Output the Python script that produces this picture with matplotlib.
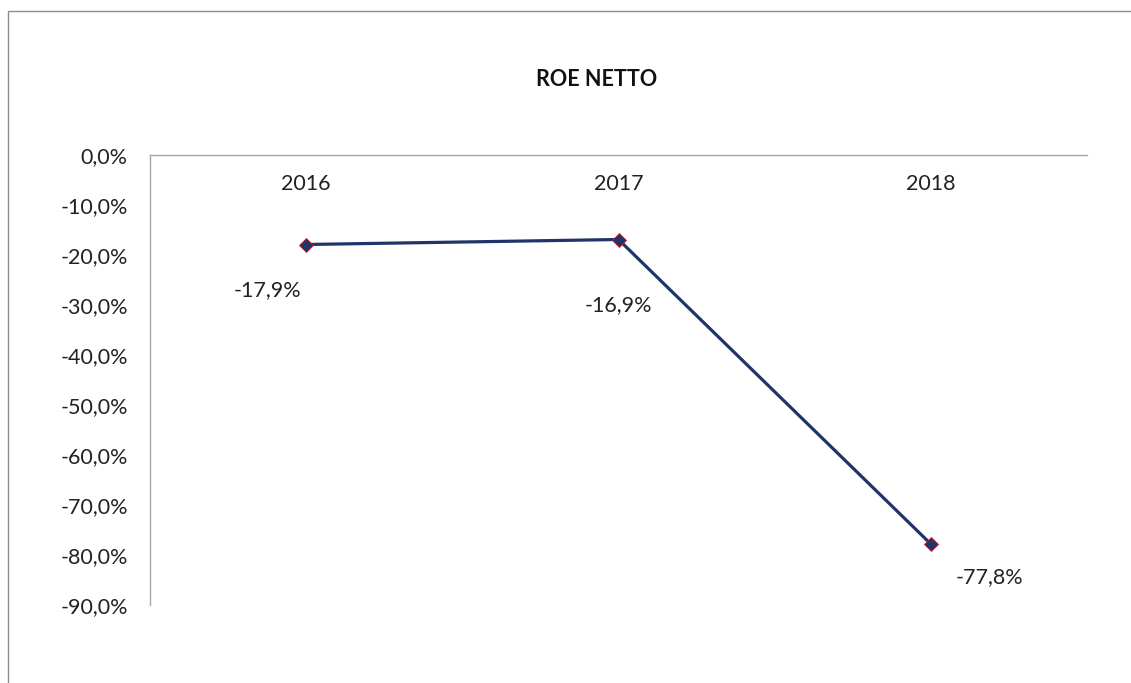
import matplotlib.pyplot as plt
from matplotlib.patches import Rectangle
from matplotlib.ticker import FuncFormatter

# _____DATA____

years = ['2016', '2017', '2018']
roe_netto = [-17.9, -16.9, -77.8]
y_ticks = [0, -10, -20, -30, -40, -50, -60, -70, -80, -90]

# label offsets in points (dx, dy), moved by hand in the original
label_offsets = [(-28, -33), (0, -47), (42, -24)]


def _pct(value, pos=None):
    # italian style percentage with comma
    return '{:.1f}%'.format(value).replace('.', ',')


plt.rcParams['font.family'] = ['Lato', 'DejaVu Sans']
FONT_SIZE = 15.5

# create figure
fig = plt.figure(figsize=(11.31, 6.83), dpi=100)
W, H = 1131, 683

# chart border
fig.patches.append(Rectangle((8 / W, -0.1), 1.2, 1 - 11 / H + 0.1, transform=fig.transFigure,
                             fill=False, edgecolor='#8c8c8c', linewidth=1.0))

# plot area
left, right, top, bottom = 150, 1087, 155, 605
ax = fig.add_axes([left / W, 1 - bottom / H, (right - left) / W, (bottom - top) / H])

x = range(len(years))
ax.plot(x, roe_netto, color='#1f3468', linewidth=2.3, marker='D', markersize=7,
        markerfacecolor='#1f3468', markeredgecolor='#c0202a', markeredgewidth=0.6, zorder=3)

for i, v in enumerate(roe_netto):
    ax.annotate(_pct(v), (i, v), xytext=label_offsets[i], textcoords='offset points',
                ha='center', va='center', fontsize=FONT_SIZE, color='#222222')

# axes
ax.set_xlim(-0.5, len(years) - 0.5)
ax.set_ylim(-90, 0)
ax.set_yticks(y_ticks)
ax.yaxis.set_major_formatter(FuncFormatter(_pct))
ax.set_xticks(list(x))
ax.set_xticklabels(years)
ax.xaxis.set_ticks_position('top')
ax.tick_params(axis='x', length=0, pad=-28, labelsize=FONT_SIZE, labelcolor='#222222')
ax.tick_params(axis='y', length=0, pad=16, labelsize=FONT_SIZE, labelcolor='#222222')

for side in ['right', 'bottom']:
    ax.spines[side].set_visible(False)
for side in ['top', 'left']:
    ax.spines[side].set_color('#a6a6a6')
    ax.spines[side].set_linewidth(1.0)

# title
fig.text(597 / W, 1 - 80 / H, 'ROE NETTO', ha='center', va='center', fontsize=FONT_SIZE,
         fontweight='bold', color='#111111')

plt.savefig('out.png', dpi=100)
plt.close('all')
